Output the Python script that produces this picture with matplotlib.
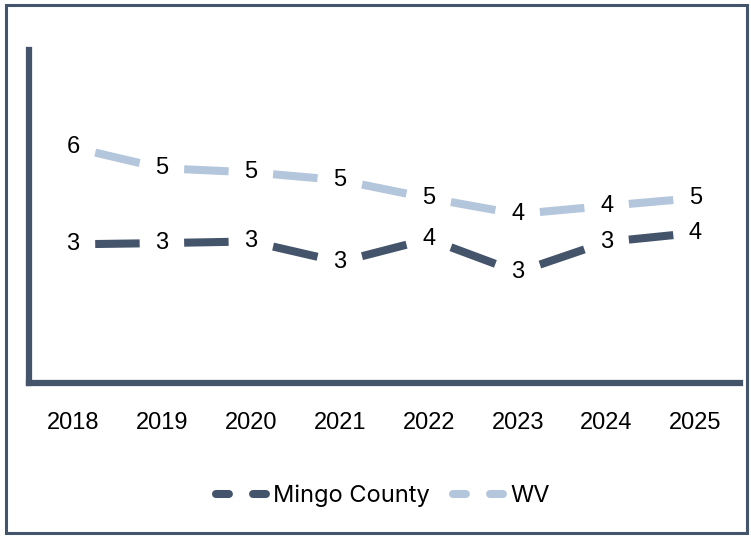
import matplotlib
matplotlib.use('Agg')
import matplotlib.pyplot as plt
from matplotlib.lines import Line2D
from matplotlib.patches import Rectangle

# data
years = ['2018', '2019', '2020', '2021', '2022', '2023', '2024', '2025']
mingo = [3.39, 3.42, 3.46, 2.96, 3.52, 2.71, 3.45, 3.67]
wv = [5.76, 5.25, 5.15, 4.96, 4.52, 4.13, 4.33, 4.52]

dark = '#44546A'
light = '#B4C6DB'

fig = plt.figure(figsize=(7.51, 5.36), dpi=100)
fig.patches.append(Rectangle((0.008, 0.006), 0.987, 0.984, transform=fig.transFigure,
                             fill=False, edgecolor=dark, linewidth=2.2))

ax = fig.add_axes([28.5/751, 1-383/536, (740-28.5)/751, (383-50)/536])

def draw(vals, color):
    # one dash per segment, leaving room around each point for its label
    for i in range(len(vals)-1):
        x0, x1 = i+0.25, i+0.75
        y0 = vals[i] + 0.25*(vals[i+1]-vals[i])
        y1 = vals[i] + 0.75*(vals[i+1]-vals[i])
        ax.plot([x0, x1], [y0, y1], color=color, lw=5.8, solid_capstyle='butt')
    for i, v in enumerate(vals):
        ax.text(i, v, f'{v:.0f}', ha='center', va='center', fontsize=17,
                family='Liberation Sans', color='black')

draw(wv, light)
draw(mingo, dark)

ax.set_xlim(-0.5, len(years)-0.5)
ax.set_ylim(0, 8.14)
ax.set_xticks(range(len(years)))
ax.set_xticklabels(years, fontsize=17, family='Liberation Sans')
ax.tick_params(axis='x', length=0, pad=21)
ax.set_yticks([])
for s in ['top', 'right']:
    ax.spines[s].set_visible(False)
for s in ['left', 'bottom']:
    ax.spines[s].set_color(dark)
    ax.spines[s].set_linewidth(4.5)

handles = [Line2D([], [], color=dark, lw=5.8, linestyle=(0, (1.6, 3.0)), dash_capstyle='round'),
           Line2D([], [], color=light, lw=5.8, linestyle=(0, (1.6, 3.0)), dash_capstyle='round')]
fig.legend(handles, ['Mingo County', 'WV'], loc='center', bbox_to_anchor=(0.51, 0.075),
           ncol=2, frameon=False, prop={'family': 'Inter', 'size': 17},
           handlelength=2.4, handletextpad=0.0, columnspacing=1.0)

fig.savefig('out.png', dpi=100)
